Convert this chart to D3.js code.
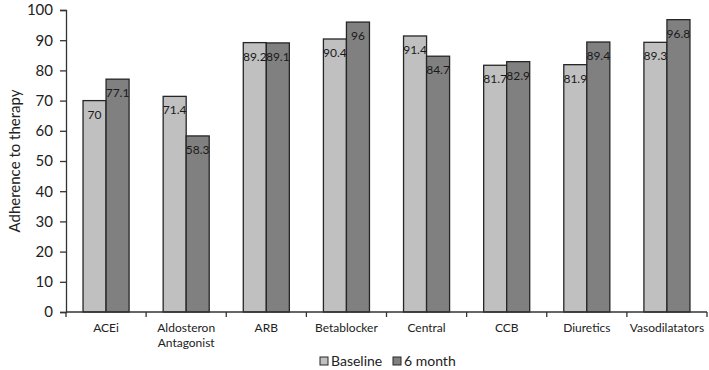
<!DOCTYPE html>
<html>
<head>
<meta charset="utf-8">
<script src="https://cdn.jsdelivr.net/npm/d3@7"></script>
<style>
  body { margin: 0; background: #fff; }
  svg { display: block; font-family: Lato, 'Noto Sans', sans-serif; }
</style>
</head>
<body>
<div id="chart"></div>
<script>
// Chart data
const categories = ['ACEi', 'Aldosteron Antagonist', 'ARB', 'Betablocker', 'Central', 'CCB', 'Diuretics', 'Vasodilatators'];
const seriesNames = ['Baseline', '6 month'];
const baselineValues = [70, 71.4, 89.2, 90.4, 91.4, 81.7, 81.9, 89.3];
const sixMonthValues = [77.1, 58.3, 89.1, 96, 84.7, 82.9, 89.4, 96.8];
const yTicks = [0, 10, 20, 30, 40, 50, 60, 70, 80, 90, 100];

const colors = { 'Baseline': '#c0c0c0', '6 month': '#808080' };

const width = 709, height = 370;
const margin = { top: 10, right: 2, bottom: 58, left: 66 };

const rows = categories.map((c, i) => ({
    category: c,
    values: [
        { series: 'Baseline', value: baselineValues[i] },
        { series: '6 month', value: sixMonthValues[i] }
    ]
}));

const svg = d3.select('#chart').append('svg')
    .attr('width', width)
    .attr('height', height);

const x0 = d3.scaleBand()
    .domain(categories)
    .range([margin.left, width - margin.right])
    .padding(0);

const x1 = d3.scaleBand()
    .domain(seriesNames)
    .range([0, x0.bandwidth()])
    .paddingInner(0)
    .paddingOuter(0.74);

const y = d3.scaleLinear()
    .domain([0, 100])
    .range([height - margin.bottom, margin.top]);

// Bars
const groups = svg.append('g')
    .selectAll('g')
    .data(rows)
    .enter()
    .append('g')
    .attr('transform', d => `translate(${x0(d.category)},0)`);

groups.selectAll('rect')
    .data(d => d.values)
    .enter()
    .append('rect')
    .attr('x', d => x1(d.series))
    .attr('y', d => y(d.value))
    .attr('width', x1.bandwidth())
    .attr('height', d => y(0) - y(d.value))
    .attr('fill', d => colors[d.series])
    .attr('stroke', '#262626')
    .attr('stroke-width', 1.3);

// Value labels inside bar tops
groups.selectAll('text')
    .data(d => d.values)
    .enter()
    .append('text')
    .attr('x', d => x1(d.series) + x1.bandwidth() / 2)
    .attr('y', d => y(d.value) + 18)
    .attr('text-anchor', 'middle')
    .style('font-size', '12px')
    .style('fill', '#1a1a1a')
    .text(d => d.value);

// Y axis
const yAxis = svg.append('g')
    .attr('transform', `translate(${margin.left},0)`)
    .call(d3.axisLeft(y).tickValues(yTicks).tickSize(6).tickPadding(7));
yAxis.select('.domain').attr('stroke', '#333').attr('stroke-width', 1.3);
yAxis.selectAll('.tick line').attr('stroke', '#333').attr('stroke-width', 1.3);
yAxis.selectAll('.tick text')
    .style('font-size', '15px')
    .style('font-family', 'Lato, sans-serif')
    .attr('fill', '#222');

// X axis: ticks at band boundaries
const xAxis = svg.append('g')
    .attr('transform', `translate(0,${y(0)})`);
xAxis.append('line')
    .attr('x1', margin.left)
    .attr('x2', width - margin.right)
    .attr('stroke', '#333')
    .attr('stroke-width', 1.3);
const boundaries = categories.map(c => x0(c)).concat([x0.range()[1]]);
xAxis.selectAll('.xtick')
    .data(boundaries)
    .enter()
    .append('line')
    .attr('x1', d => d)
    .attr('x2', d => d)
    .attr('y1', 0)
    .attr('y2', 5)
    .attr('stroke', '#333')
    .attr('stroke-width', 1.3);

const xLabels = xAxis.selectAll('.xlabel')
    .data(categories)
    .enter()
    .append('text')
    .attr('x', d => x0(d) + x0.bandwidth() / 2)
    .attr('y', 20)
    .attr('text-anchor', 'middle')
    .style('font-size', '12px')
    .style('fill', '#222');
xLabels.each(function(d) {
    const words = d.split(' ');
    const t = d3.select(this);
    words.forEach((w, i) => {
        t.append('tspan')
            .attr('x', x0(d) + x0.bandwidth() / 2)
            .attr('dy', i === 0 ? 0 : 15)
            .text(w);
    });
});

// Y axis title
svg.append('text')
    .attr('transform', `translate(20,${(margin.top + y(0)) / 2}) rotate(-90)`)
    .attr('text-anchor', 'middle')
    .style('font-size', '15px')
    .style('fill', '#222')
    .text('Adherence to therapy');

// Legend
const legendItems = [
    { name: 'Baseline', x: 320 },
    { name: '6 month', x: 393 }
];
const legend = svg.append('g');
legend.selectAll('rect')
    .data(legendItems)
    .enter()
    .append('rect')
    .attr('x', d => d.x)
    .attr('y', 357)
    .attr('width', 8)
    .attr('height', 8)
    .attr('fill', d => colors[d.name])
    .attr('stroke', '#262626')
    .attr('stroke-width', 1);
legend.selectAll('text')
    .data(legendItems)
    .enter()
    .append('text')
    .attr('x', d => d.x + 11)
    .attr('y', 366)
    .style('font-size', '14px')
    .style('fill', '#222')
    .text(d => d.name);
</script>
</body>
</html>
